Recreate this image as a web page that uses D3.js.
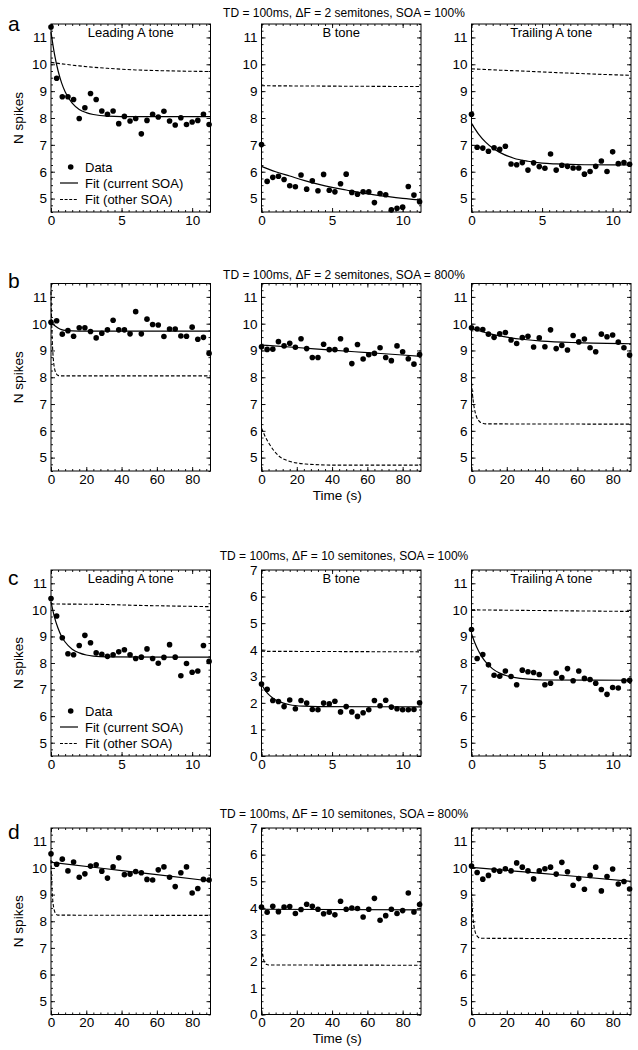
<!DOCTYPE html>
<html><head><meta charset="utf-8">
<script src="https://cdn.jsdelivr.net/npm/d3@7"></script>
<style>body{margin:0;background:#fff} text{font-family:Arial,"Liberation Sans",sans-serif;fill:#000}</style>
</head><body><svg id="c" width="638" height="1050"></svg>
<script>
// ---------- data ----------
const rowTitles = ["TD = 100ms, \u0394F = 2 semitones, SOA = 100%", "TD = 100ms, \u0394F = 2 semitones, SOA = 800%",
                   "TD = 100ms, \u0394F = 10 semitones, SOA = 100%", "TD = 100ms, \u0394F = 10 semitones, SOA = 800%"];
const rowLetters = ["a", "b", "c", "d"];
const toneNames = ["Leading A tone", "B tone", "Trailing A tone"];
const legendLabels = ["Data", "Fit (current SOA)", "Fit (other SOA)"];
const yAxisLabel = "N spikes";
const xAxisLabel = "Time (s)";
const xTicksShort = [0, 5, 10];
const xTicksLong = [0, 20, 40, 60, 80];
const yTicksHigh = [5, 6, 7, 8, 9, 10, 11];
const yTicksLow = [0, 1, 2, 3, 4, 5, 6, 7];
const timeShort = [0,0.4,0.8,1.2,1.6,2,2.4,2.8,3.2,3.6,4,4.4,4.8,5.2,5.6,6,6.4,6.8,7.2,7.6,8,8.4,8.8,9.2,9.6,10,10.4,10.8,11.2];
const timeLong = [0,3.2,6.4,9.6,12.8,16,19.2,22.4,25.6,28.8,32,35.2,38.4,41.6,44.8,48,51.2,54.4,57.6,60.8,64,67.2,70.4,73.6,76.8,80,83.2,86.4,89.6];

const dataA1 = [11.39,9.48,8.79,8.79,8.69,7.98,8.38,8.91,8.69,8.26,8.14,8.26,7.79,8.06,7.89,7.98,7.41,7.91,8.14,8.04,8.25,7.89,7.74,8.01,7.76,7.85,7.91,8.14,7.76];
const dataA2 = [7.01,5.64,5.79,5.83,5.71,5.48,5.44,5.88,5.35,5.66,5.29,5.90,5.31,5.25,5.55,5.91,5.23,5.16,5.25,5.25,4.85,5.19,5.14,4.58,4.64,4.68,5.45,5.13,4.88];
const dataA3 = [8.14,6.91,6.88,6.76,6.89,6.83,6.95,6.29,6.26,6.34,6.06,6.33,6.19,6.13,6.66,6.06,6.24,6.20,6.14,6.14,5.91,6.01,6.20,6.40,6.01,6.74,6.30,6.34,6.28];
const dataB1 = [10.05,10.11,9.61,9.74,9.53,9.85,9.85,9.71,9.47,9.64,9.77,10.13,9.77,9.77,9.62,10.45,9.62,10.17,9.97,9.95,9.52,9.80,9.80,9.54,9.53,9.87,9.42,9.49,8.89];
const dataB2 = [9.14,9.04,9.05,9.33,9.17,9.27,9.12,9.44,9.07,8.74,8.74,9.23,9.03,9.03,9.44,9.02,8.51,9.22,8.68,8.84,8.89,9.10,8.74,8.62,9.17,8.95,8.69,8.49,8.85];
const dataB3 = [9.85,9.80,9.78,9.61,9.49,9.62,9.67,9.39,9.26,9.48,9.53,9.13,9.47,9.14,9.77,9.07,9.19,9.02,9.56,9.32,9.43,9.10,8.95,9.61,9.51,9.58,9.31,9.10,8.83];
const dataC1 = [10.43,9.77,8.95,8.35,8.31,8.66,9.04,8.76,8.38,8.33,8.25,8.31,8.42,8.50,8.31,8.17,8.22,8.53,8.17,7.99,8.21,8.69,8.22,7.52,7.98,7.65,7.70,8.66,8.06];
const dataC2 = [2.71,2.51,2.09,2.05,1.86,2.11,1.78,2.09,1.99,1.75,1.74,1.99,1.96,2.06,1.66,1.86,1.66,1.49,1.63,1.74,2.09,1.89,2.10,1.84,1.78,1.74,1.74,1.75,2.00];
const dataC3 = [9.26,8.17,8.32,7.93,7.54,7.50,7.70,7.49,7.18,7.73,7.67,7.64,7.57,7.18,7.24,7.62,7.45,7.79,7.33,7.70,7.42,7.38,7.24,7.00,6.82,7.08,7.06,7.33,7.35];
const dataD1 = [10.53,10.14,10.33,9.89,10.22,9.65,9.78,10.07,10.12,9.88,9.62,10.04,10.38,9.75,9.77,9.87,9.82,9.57,9.55,9.93,10.04,9.65,9.30,9.82,10.04,9.06,9.23,9.57,9.55];
const dataD2 = [4.03,3.84,4.06,3.86,4.03,4.05,3.79,3.94,4.14,4.06,3.95,3.78,3.84,3.74,4.25,3.95,4.00,3.98,3.66,3.95,4.36,3.54,3.71,3.95,3.79,3.90,4.56,3.85,4.13];
const dataD3 = [10.07,9.83,9.58,9.72,9.92,9.88,9.97,9.89,10.19,10.03,9.89,9.59,9.89,9.97,10.03,9.77,10.21,9.86,9.35,9.60,9.20,9.72,10.03,9.14,9.68,9.96,9.40,9.49,9.21];

// fitted curves as [time, value]
const fitA1Cur = [[0,11.2],[0.25,10.37],[0.5,9.76],[0.75,9.31],[1,8.98],[1.5,8.55],[2,8.32],[2.5,8.2],[3,8.13],[4,8.07],[6,8.05],[11.3,8.05]];
const fitA1Oth = [[0,10.07],[1,10.0],[2,9.94],[3,9.89],[4,9.85],[6,9.79],[8,9.76],[11.3,9.73]];
const fitA2Cur = [[0,6.2],[1,6.0],[2,5.84],[3,5.68],[4,5.54],[5,5.42],[6,5.32],[7,5.22],[8,5.14],[9,5.07],[10,5.01],[11.3,4.95]];
const fitA2Oth = [[0,9.2],[11.3,9.17]];
const fitA3Cur = [[0,7.8],[0.5,7.4],[1,7.1],[1.5,6.88],[2,6.72],[3,6.5],[4,6.39],[5,6.32],[6,6.29],[8,6.26],[11.3,6.25]];
const fitA3Oth = [[0,9.83],[2,9.78],[4,9.74],[6,9.69],[8,9.65],[10,9.61],[11.3,9.59]];
const fitB1Cur = [[0,10.05],[2,9.93],[4,9.84],[6,9.78],[8,9.75],[12,9.73],[20,9.72],[90.4,9.72]];
const fitB1Oth = [[0,11.2],[0.25,10.37],[0.5,9.76],[0.75,9.31],[1,8.98],[1.5,8.55],[2,8.32],[2.5,8.2],[3,8.13],[4,8.07],[6,8.05],[90.4,8.05]];
const fitB2Cur = [[0,9.2],[20,9.11],[40,9.01],[60,8.92],[80,8.83],[90.4,8.78]];
const fitB2Oth = [[0,6.1],[2,5.8],[5,5.45],[10,5.05],[15,4.88],[20,4.8],[25,4.76],[30,4.74],[40,4.72],[90.4,4.72]];
const fitB3Cur = [[0,9.82],[10,9.63],[20,9.5],[30,9.41],[40,9.35],[60,9.29],[90.4,9.25]];
const fitB3Oth = [[0,7.8],[0.5,7.4],[1,7.1],[1.5,6.88],[2,6.72],[3,6.5],[4,6.39],[5,6.32],[6,6.29],[8,6.26],[90.4,6.25]];
const fitC1Cur = [[0,10.3],[0.25,9.72],[0.5,9.31],[0.75,9.0],[1,8.79],[1.5,8.52],[2,8.38],[2.5,8.3],[3,8.26],[4,8.23],[11.3,8.22]];
const fitC1Oth = [[0,10.22],[4,10.2],[6,10.17],[8,10.15],[11.3,10.12]];
const fitC2Cur = [[0,2.7],[0.25,2.48],[0.5,2.32],[0.75,2.2],[1,2.11],[1.5,2.0],[2,1.93],[3,1.875],[4,1.86],[11.3,1.85]];
const fitC2Oth = [[0,3.94],[11.3,3.92]];
const fitC3Cur = [[0,9.1],[0.25,8.74],[0.5,8.45],[0.75,8.22],[1,8.04],[1.5,7.78],[2,7.62],[2.5,7.52],[3,7.46],[4,7.39],[5,7.36],[11.3,7.35]];
const fitC3Oth = [[0,10.0],[11.3,9.94]];
const fitD1Cur = [[0,10.21],[30,9.98],[60,9.75],[90.4,9.51]];
const fitD1Oth = [[0,10.3],[0.25,9.72],[0.5,9.31],[0.75,9.0],[1,8.79],[1.5,8.52],[2,8.38],[2.5,8.3],[3,8.26],[4,8.23],[90.4,8.22]];
const fitD2Cur = [[0,3.95],[90.4,3.93]];
const fitD2Oth = [[0,2.7],[0.25,2.48],[0.5,2.32],[0.75,2.2],[1,2.11],[1.5,2.0],[2,1.93],[3,1.875],[4,1.86],[90.4,1.85]];
const fitD3Cur = [[0,10.02],[30,9.85],[60,9.68],[90.4,9.5]];
const fitD3Oth = [[0,9.1],[0.25,8.74],[0.5,8.45],[0.75,8.22],[1,8.04],[1.5,7.78],[2,7.62],[2.5,7.52],[3,7.46],[4,7.39],[5,7.36],[90.4,7.35]];

// ---------- panels ----------
const panels = [
  {row:0,col:0,long:false,low:false,data:dataA1,cur:fitA1Cur,oth:fitA1Oth},
  {row:0,col:1,long:false,low:false,data:dataA2,cur:fitA2Cur,oth:fitA2Oth},
  {row:0,col:2,long:false,low:false,data:dataA3,cur:fitA3Cur,oth:fitA3Oth},
  {row:1,col:0,long:true,low:false,data:dataB1,cur:fitB1Cur,oth:fitB1Oth},
  {row:1,col:1,long:true,low:false,data:dataB2,cur:fitB2Cur,oth:fitB2Oth},
  {row:1,col:2,long:true,low:false,data:dataB3,cur:fitB3Cur,oth:fitB3Oth},
  {row:2,col:0,long:false,low:false,data:dataC1,cur:fitC1Cur,oth:fitC1Oth},
  {row:2,col:1,long:false,low:true,data:dataC2,cur:fitC2Cur,oth:fitC2Oth},
  {row:2,col:2,long:false,low:false,data:dataC3,cur:fitC3Cur,oth:fitC3Oth},
  {row:3,col:0,long:true,low:false,data:dataD1,cur:fitD1Cur,oth:fitD1Oth},
  {row:3,col:1,long:true,low:true,data:dataD2,cur:fitD2Cur,oth:fitD2Oth},
  {row:3,col:2,long:true,low:false,data:dataD3,cur:fitD3Cur,oth:fitD3Oth}
];

// ---------- layout ----------
const svg = d3.select("#c");
const colX = [51, 261.5, 471.5], W = 159.5;
const rowY = [24, 283.5, 570, 828], rowH = [188, 187.5, 186, 186.5];
const titleY = [16.5, 279, 560, 818];
const letterY = [31, 288, 585, 839];
const TFS = 13.5;

rowTitles.forEach((t, i) => {
  svg.append("text").attr("x", 344).attr("y", titleY[i]).attr("text-anchor", "middle")
    .style("font-size", "12px").text(t);
  svg.append("text").attr("x", 8).attr("y", letterY[i]).style("font-size", "21px").text(rowLetters[i]);
});

const line = (xs, ys) => d3.line().x(d => xs(d[0])).y(d => ys(d[1])).curve(d3.curveMonotoneX);

panels.forEach(p => {
  const x0 = colX[p.col], y0 = rowY[p.row], h = rowH[p.row];
  const xs = d3.scaleLinear().domain(p.long ? [0, 90.4] : [0, 11.3]).range([x0, x0 + W]);
  const ys = d3.scaleLinear().domain(p.low ? [0, 7] : [4.5, 11.5]).range([y0 + h, y0]);
  const times = p.long ? timeLong : timeShort;
  const xt = p.long ? xTicksLong : xTicksShort;
  const yt = p.low ? yTicksLow : yTicksHigh;
  const xMinor = p.long ? d3.range(0, 90.5, 4) : d3.range(0, 11.31, 0.5);
  const yMinor = p.low ? d3.range(0, 7.01, 0.25) : d3.range(4.5, 11.51, 0.25);
  const g = svg.append("g");

  const styleAxis = sel => {
    sel.select(".domain").remove();
    sel.selectAll("line").attr("stroke", "#000").attr("stroke-width", 0.9);
    sel.selectAll("text").style("font-size", TFS + "px").style("font-family", "Arial, 'Liberation Sans', sans-serif").attr("fill", "#000");
  };
  // minor ticks on all sides
  g.append("g").attr("transform", `translate(0,${y0 + h})`).call(d3.axisBottom(xs).tickValues(xMinor).tickSize(-2).tickFormat("")).call(styleAxis);
  g.append("g").attr("transform", `translate(0,${y0})`).call(d3.axisTop(xs).tickValues(xMinor).tickSize(-2).tickFormat("")).call(styleAxis);
  g.append("g").attr("transform", `translate(${x0},0)`).call(d3.axisLeft(ys).tickValues(yMinor).tickSize(-2).tickFormat("")).call(styleAxis);
  g.append("g").attr("transform", `translate(${x0 + W},0)`).call(d3.axisRight(ys).tickValues(yMinor).tickSize(-2).tickFormat("")).call(styleAxis);
  // major ticks
  g.append("g").attr("transform", `translate(0,${y0 + h})`)
    .call(d3.axisBottom(xs).tickValues(xt).tickSizeInner(-4).tickSizeOuter(0).tickPadding(3).tickFormat(d3.format("d"))).call(styleAxis);
  g.append("g").attr("transform", `translate(0,${y0})`)
    .call(d3.axisTop(xs).tickValues(xt).tickSizeInner(-4).tickSizeOuter(0).tickFormat("")).call(styleAxis);
  g.append("g").attr("transform", `translate(${x0},0)`)
    .call(d3.axisLeft(ys).tickValues(yt).tickSizeInner(-4).tickSizeOuter(0).tickPadding(4).tickFormat(d3.format("d"))).call(styleAxis);
  g.append("g").attr("transform", `translate(${x0 + W},0)`)
    .call(d3.axisRight(ys).tickValues(yt).tickSizeInner(-4).tickSizeOuter(0).tickFormat("")).call(styleAxis);

  g.append("rect").attr("x", x0).attr("y", y0).attr("width", W).attr("height", h)
    .attr("fill", "none").attr("stroke", "#000").attr("stroke-width", 1);

  g.append("path").datum(p.oth).attr("d", line(xs, ys)).attr("fill", "none")
    .attr("stroke", "#000").attr("stroke-width", 1.1).attr("stroke-dasharray", "3.5,2");
  g.append("path").datum(p.cur).attr("d", line(xs, ys)).attr("fill", "none")
    .attr("stroke", "#000").attr("stroke-width", 1.2);
  g.selectAll("circle.pt").data(p.data).enter().append("circle").attr("class", "pt")
    .attr("cx", (d, i) => xs(times[i])).attr("cy", d => ys(d)).attr("r", 2.8).attr("fill", "#000");

  if (p.row === 0 || p.row === 2) {
    g.append("text").attr("x", x0 + W / 2).attr("y", y0 + 13).attr("text-anchor", "middle")
      .style("font-size", "13px").text(toneNames[p.col]);
  }
  if (p.col === 0) {
    g.append("text").attr("transform", `translate(23,${y0 + h / 2}) rotate(-90)`).attr("text-anchor", "middle")
      .style("font-size", "13.5px").text(yAxisLabel);
  }
  if (p.col === 1 && (p.row === 1 || p.row === 3)) {
    g.append("text").attr("x", x0 + W / 2 - 4).attr("y", y0 + h + 28.5).attr("text-anchor", "middle")
      .style("font-size", "13.5px").text(xAxisLabel);
  }
  if (p.col === 0 && (p.row === 0 || p.row === 2)) {
    const lg = g.append("g");
    const base = y0 + h;
    const offs = [-45, -29, -12.5];
    lg.append("circle").attr("cx", 70.7).attr("cy", base + offs[0]).attr("r", 2.8).attr("fill", "#000");
    lg.append("line").attr("x1", 60).attr("x2", 78).attr("y1", base + offs[1]).attr("y2", base + offs[1])
      .attr("stroke", "#000").attr("stroke-width", 1.2);
    lg.append("line").attr("x1", 60).attr("x2", 78).attr("y1", base + offs[2]).attr("y2", base + offs[2])
      .attr("stroke", "#000").attr("stroke-width", 1.1).attr("stroke-dasharray", "3,1.6");
    legendLabels.forEach((t, i) => {
      lg.append("text").attr("x", 85).attr("y", base + offs[i]).attr("dy", "0.35em")
        .style("font-size", "13px").text(t);
    });
  }
});
</script></body></html>
